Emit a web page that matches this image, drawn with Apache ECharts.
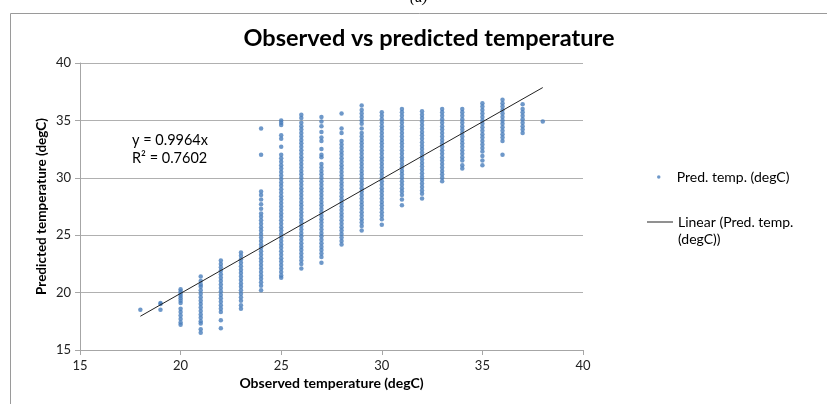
<!DOCTYPE html>
<html>
<head>
<meta charset="utf-8">
<script src="https://cdn.jsdelivr.net/npm/echarts@6/dist/echarts.min.js"></script>
<style>
html,body{margin:0;padding:0;background:#fff;}
#chart{width:827px;height:404px;}
</style>
</head>
<body>
<div id="chart"></div>
<script>
// Observed temperature (x) for each column of points
var observedTemps = [18, 19, 20, 21, 22, 23, 24, 25, 26, 27, 28, 29, 30, 31, 32, 33, 34, 35, 36, 37, 38];
// Predicted temperatures
var pred18 = [18.5];
var pred19 = [19.1, 19.0, 18.5];
var pred20 = [20.3, 20.1, 19.9, 19.7, 19.5, 19.3, 19.1, 18.6, 18.3, 18.0, 17.7, 17.4, 17.2];
var pred21 = [21.4, 21.0, 20.7, 20.5, 20.2, 19.9, 19.6, 19.3, 19.0, 18.7, 18.4, 18.1, 17.8, 17.5, 17.3, 16.8, 16.5];
var pred22 = [22.8, 22.5, 22.2, 21.9, 21.6, 21.3, 21.0, 20.7, 20.4, 20.1, 19.8, 19.5, 19.2, 18.9, 18.6, 18.3, 17.6, 16.9];
var pred23 = [23.5, 23.2, 22.9, 22.6, 22.3, 22.0, 21.7, 21.4, 21.1, 20.8, 20.5, 20.2, 19.9, 19.6, 19.3, 18.9, 18.6];
var pred24 = [34.3, 32.0, 28.8, 28.5, 28.1, 27.7, 27.3, 26.9, 26.6, 26.3, 26.0, 25.7, 25.4, 25.1, 24.8, 24.5, 24.2, 23.9, 23.6, 23.3, 23.0, 22.7, 22.4, 22.1, 21.8, 21.5, 21.2, 20.9, 20.6, 20.2];
var pred25 = [35.0, 34.8, 34.6, 33.7, 33.4, 32.7, 32.0, 31.7, 31.4, 31.1, 30.8, 30.5, 30.2, 29.9, 29.6, 29.3, 29.0, 28.7, 28.4, 28.1, 27.8, 27.5, 27.2, 26.9, 26.6, 26.3, 26.0, 25.7, 25.4, 25.1, 24.8, 24.5, 24.2, 23.9, 23.6, 23.3, 23.0, 22.7, 22.4, 22.1, 21.8, 21.5, 21.3];
var pred26 = [35.5, 35.2, 34.8, 34.5, 34.2, 33.9, 33.6, 33.3, 33.0, 32.7, 32.4, 32.1, 31.8, 31.5, 31.2, 30.9, 30.6, 30.3, 30.0, 29.7, 29.4, 29.1, 28.8, 28.5, 28.2, 27.9, 27.6, 27.3, 27.0, 26.7, 26.4, 26.1, 25.8, 25.5, 25.2, 24.9, 24.6, 24.3, 24.0, 23.7, 23.4, 23.1, 22.8, 22.5, 22.1];
var pred27 = [35.3, 34.9, 34.5, 34.0, 33.5, 33.2, 32.5, 32.0, 31.8, 31.2, 30.9, 30.6, 30.3, 30.0, 29.7, 29.4, 29.1, 28.8, 28.5, 28.2, 27.9, 27.6, 27.3, 27.0, 26.7, 26.4, 26.1, 25.8, 25.5, 25.2, 24.9, 24.6, 24.3, 24.0, 23.7, 23.4, 23.1, 22.6];
var pred28 = [35.6, 34.3, 33.9, 33.2, 32.9, 32.6, 32.3, 32.0, 31.7, 31.4, 31.1, 30.8, 30.5, 30.2, 29.9, 29.6, 29.3, 29.0, 28.7, 28.4, 28.1, 27.8, 27.5, 27.2, 26.9, 26.6, 26.3, 26.0, 25.7, 25.4, 25.1, 24.8, 24.5, 24.2];
var pred29 = [36.3, 35.9, 35.6, 35.3, 35.0, 34.7, 34.3, 33.9, 33.6, 33.3, 33.0, 32.7, 32.4, 32.1, 31.8, 31.5, 31.2, 30.9, 30.6, 30.3, 30.0, 29.7, 29.4, 29.1, 28.8, 28.5, 28.2, 27.9, 27.6, 27.3, 27.0, 26.7, 26.4, 26.1, 25.8, 25.4];
var pred30 = [35.7, 35.4, 35.1, 34.8, 34.5, 34.2, 33.9, 33.6, 33.3, 33.0, 32.7, 32.4, 32.1, 31.8, 31.5, 31.2, 30.9, 30.6, 30.3, 30.0, 29.7, 29.4, 29.1, 28.8, 28.5, 28.2, 27.9, 27.6, 27.3, 27.0, 26.7, 26.4, 25.9];
var pred31 = [36.0, 35.7, 35.4, 35.1, 34.8, 34.5, 34.2, 33.9, 33.6, 33.3, 33.0, 32.7, 32.4, 32.1, 31.8, 31.5, 31.2, 30.9, 30.6, 30.3, 30.0, 29.7, 29.4, 29.1, 28.8, 28.5, 28.1, 27.6];
var pred32 = [35.8, 35.5, 35.2, 34.9, 34.6, 34.3, 34.0, 33.7, 33.4, 33.1, 32.8, 32.5, 32.2, 31.9, 31.6, 31.3, 31.0, 30.7, 30.4, 30.1, 29.8, 29.5, 29.2, 28.9, 28.6, 28.2];
var pred33 = [36.0, 35.7, 35.4, 35.1, 34.8, 34.5, 34.2, 33.9, 33.6, 33.3, 33.0, 32.7, 32.4, 32.1, 31.8, 31.5, 31.2, 30.9, 30.6, 30.3, 30.0, 29.7];
var pred34 = [36.0, 35.7, 35.4, 35.1, 34.8, 34.5, 34.2, 33.9, 33.6, 33.3, 33.0, 32.7, 32.4, 32.1, 31.8, 31.5, 31.1, 30.8];
var pred35 = [36.5, 36.2, 35.9, 35.6, 35.3, 35.0, 34.7, 34.4, 34.1, 33.8, 33.5, 33.2, 32.9, 32.6, 32.3, 31.9, 31.5, 31.1];
var pred36 = [36.8, 36.5, 36.2, 35.9, 35.6, 35.3, 35.0, 34.7, 34.4, 34.1, 33.8, 33.5, 33.2, 32.0];
var pred37 = [36.4, 36.0, 35.7, 35.4, 35.1, 34.8, 34.5, 34.2, 33.9];
var pred38 = [34.9];
var predColumns = [pred18, pred19, pred20, pred21, pred22, pred23, pred24, pred25, pred26, pred27, pred28, pred29, pred30, pred31, pred32, pred33, pred34, pred35, pred36, pred37, pred38];

// Linear trendline (y = 0.9964x) end points
var trendX = [18, 38];
var trendY = [17.94, 37.86];

// Axis ticks
var xTicks = [15, 20, 25, 30, 35, 40];
var yTicks = [15, 20, 25, 30, 35, 40];

var scatterName = 'Pred. temp. (degC)';
var lineName = 'Linear (Pred. temp. (degC))';

var scatterData = [];
observedTemps.forEach(function (x, i) {
  predColumns[i].forEach(function (y) { scatterData.push([x, y]); });
});
var trendData = trendX.map(function (x, i) { return [x, trendY[i]]; });

var FONT = 'Lato, "Open Sans", sans-serif';
var legendText = {fontFamily: FONT, fontSize: 14, color: '#000'};
var chart = echarts.init(document.getElementById('chart'), null, {renderer: 'canvas'});
chart.setOption({
  animation: false,
  backgroundColor: '#fff',
  title: {
    text: 'Observed vs predicted temperature',
    left: 424, top: 21, textAlign: 'center',
    textStyle: {fontFamily: FONT, fontSize: 23.5, fontWeight: 'bold', color: '#000'}
  },
  grid: {left: 80, right: 244, top: 63, bottom: 54},
  xAxis: {
    type: 'value', min: xTicks[0], max: xTicks[xTicks.length - 1], interval: 5,
    name: 'Observed temperature (degC)', nameLocation: 'middle', nameGap: 26,
    nameTextStyle: {fontFamily: FONT, fontSize: 14, fontWeight: 'bold', color: '#000'},
    axisLine: {lineStyle: {color: '#a6a6a6', width: 1}},
    axisTick: {show: true, length: 5, lineStyle: {color: '#a6a6a6'}},
    axisLabel: {fontFamily: FONT, fontSize: 13, color: '#222', margin: 9},
    splitLine: {show: false}
  },
  yAxis: {
    type: 'value', min: yTicks[0], max: yTicks[yTicks.length - 1], interval: 5,
    name: 'Predicted temperature (degC)', nameLocation: 'middle', nameGap: 31,
    nameMoveOverlap: false,
    nameTextStyle: {fontFamily: FONT, fontSize: 13.5, fontWeight: 'bold', color: '#000'},
    axisLine: {show: true, lineStyle: {color: '#a6a6a6', width: 1}},
    axisTick: {show: true, length: 5, lineStyle: {color: '#a6a6a6'}},
    axisLabel: {fontFamily: FONT, fontSize: 13, color: '#222', margin: 9},
    splitLine: {show: true, lineStyle: {color: '#b0b0b0', width: 1}}
  },
  legend: [
    {
      left: 657, top: 170, padding: 0, itemWidth: 26, itemHeight: 3.5,
      textStyle: legendText,
      data: [{name: scatterName, icon: 'circle'}]
    },
    {
      left: 647, top: 215, padding: 0, itemWidth: 26, itemHeight: 1,
      textStyle: legendText,
      formatter: function () { return 'Linear (Pred. temp.'; },
      data: [{name: lineName, icon: 'rect'}]
    }
  ],
  graphic: [
    {type: 'rect', shape: {x: 10.5, y: 13.5, width: 900, height: 500}, style: {fill: 'none', stroke: '#9a9a9a', lineWidth: 1}, silent: true, z: -1},
    {type: 'text', left: 410, top: -9, style: {text: '(a)', font: 'italic 15px "Liberation Serif", serif', fill: '#000'}},
    {type: 'text', left: 132, top: 131, style: {text: 'y = 0.9964x\nR² = 0.7602', font: '14.5px ' + FONT, fill: '#000', lineHeight: 18}},
    {type: 'text', left: 678, top: 232, style: {text: '(degC))', font: '14px ' + FONT, fill: '#000'}}
  ],
  series: [
    {
      name: scatterName, type: 'scatter', data: scatterData,
      symbol: 'circle', symbolSize: 4.5,
      itemStyle: {color: '#4a7ebb'}
    },
    {
      name: lineName, type: 'line', data: trendData,
      symbol: 'none', itemStyle: {color: '#222'}, lineStyle: {color: '#222', width: 1}, z: 5
    }
  ]
});
</script>
</body>
</html>
